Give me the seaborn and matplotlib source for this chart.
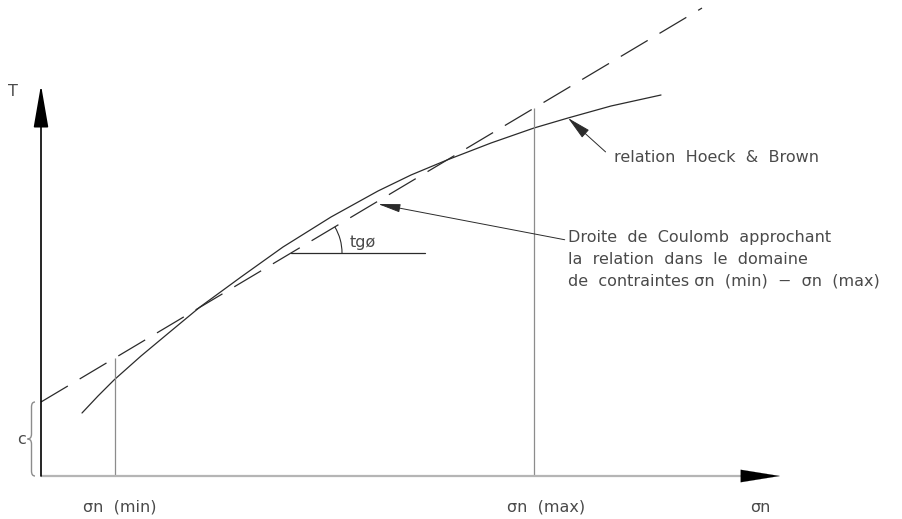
import matplotlib.pyplot as plt
from matplotlib.patches import Arc, PathPatch
from matplotlib.path import Path
import seaborn as sns
import pandas as pd
import numpy as np

sns.set_style("white")
plt.rcParams['font.family'] = ['DejaVu Sans']

# Hoek & Brown envelope
sigma_hb = [41, 57, 73, 100, 130, 159, 200, 242, 290, 337, 370, 406, 450, 493, 527, 570, 620]
tau_hb = [63, 80, 96, 120, 145, 169, 199, 229, 259, 285, 301, 316, 333, 348, 358, 370, 381]

# Coulomb straight line: tau = c + tan(phi) * sigma
c = 74
tan_phi = 0.596
sigma_line = [0, 661]

# stress domain
sigma_min = 74
sigma_max = 493

# axis lengths
sigma_axis_end = 739
tau_axis_end = 391

ink = '#2b2b2b'
txt = '#4a4a4a'
fs = 11.5

hb = pd.DataFrame({'sigma': sigma_hb, 'tau': tau_hb})
coul = pd.DataFrame({'sigma': sigma_line})
coul['tau'] = c + tan_phi * coul['sigma']

fig = plt.figure(figsize=(9.03, 5.19), dpi=100)
ax = fig.add_axes([0, 0, 1, 1])
ax.set_xlim(-41, 862)
ax.set_ylim(-43, 476)
ax.axis('off')

# curves
sns.lineplot(data=hb, x='sigma', y='tau', color=ink, lw=0.9, ax=ax, sort=False)
sns.lineplot(data=coul, x='sigma', y='tau', color=ink, lw=0.9, ax=ax,
             linestyle=(0, (25, 11)))

# vertical limits of the domain, up to the Coulomb line
ax.vlines([sigma_min, sigma_max], 0, [c + tan_phi * sigma_min, c + tan_phi * sigma_max],
          colors='#8c8c8c', lw=0.9)

# axes with arrows
ax.plot([0, sigma_axis_end - 38], [0, 0], color='#b5b5b5', lw=1.6, solid_capstyle='butt')
ax.annotate('', xy=(sigma_axis_end, 0), xytext=(sigma_axis_end - 39, 0),
            arrowprops=dict(arrowstyle='-|>,head_length=2.8,head_width=0.45',
                            color='black', lw=0.1, shrinkA=0, shrinkB=0))
ax.annotate('', xy=(0, tau_axis_end), xytext=(0, 0),
            arrowprops=dict(arrowstyle='-|>,head_length=2.65,head_width=0.46',
                            color='black', lw=1.2, shrinkA=0, shrinkB=0))

# angle phi
y_h = 223
x_h0 = (y_h - c) / tan_phi
ax.plot([x_h0, 384], [y_h, y_h], color=ink, lw=0.9)
ax.add_patch(Arc((x_h0, y_h), 102, 102, theta1=0, theta2=np.degrees(np.arctan(tan_phi)),
                 color=ink, lw=0.8))
ax.text(309, 234, 'tgø', fontsize=fs, color=txt, va='center', ha='left')

# brace for c
xe, xb, xc, r = -6, -9.5, -13.5, 5
verts = [(xe, 0), (xb, 0), (xb, r), (xb, c / 2 - r), (xb, c / 2), (xc, c / 2),
         (xb, c / 2), (xb, c / 2 + r), (xb, c - r), (xb, c), (xe, c)]
codes = [Path.MOVETO, Path.CURVE3, Path.CURVE3, Path.LINETO, Path.CURVE3, Path.CURVE3,
         Path.CURVE3, Path.CURVE3, Path.LINETO, Path.CURVE3, Path.CURVE3]
ax.add_patch(PathPatch(Path(verts, codes), fill=False, ec='#8c8c8c', lw=1.0))
ax.text(-19, 36, 'c', fontsize=fs, color=txt, va='center', ha='center')

# labels
ax.text(-28, 385, 'T', fontsize=fs, color=txt, va='center', ha='center')
ax.text(42, -31, 'σn  (min)', fontsize=fs, color=txt, va='center', ha='left')
ax.text(466, -31, 'σn  (max)', fontsize=fs, color=txt, va='center', ha='left')
ax.text(709, -31, 'σn', fontsize=fs, color=txt, va='center', ha='left')

# call-outs
ax.annotate('relation  Hoeck  &  Brown', xy=(sigma_hb[14], tau_hb[14]), xytext=(573, 318),
            fontsize=fs, color=txt, va='center', ha='left',
            arrowprops=dict(arrowstyle='-|>,head_length=1.3,head_width=0.28',
                            color=ink, lw=0.7, shrinkA=5, shrinkB=0, relpos=(0, 0.4)))
ax.annotate('Droite  de  Coulomb  approchant\nla  relation  dans  le  domaine\n'
            'de  contraintes σn  (min)  −  σn  (max)',
            xy=(337, 272), xytext=(527, 217),
            fontsize=fs, color=txt, va='center', ha='left', linespacing=1.55,
            arrowprops=dict(arrowstyle='-|>,head_length=1.2,head_width=0.22',
                            color=ink, lw=0.7, shrinkA=0, shrinkB=0,
                            relpos=(0, 0.82)))

fig.savefig('out.png', dpi=100)
